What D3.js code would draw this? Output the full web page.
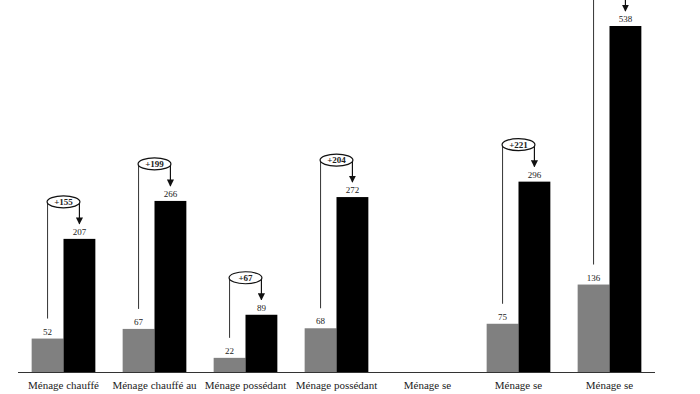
<!DOCTYPE html>
<html>
<head>
<meta charset="utf-8">
<script src="https://cdn.jsdelivr.net/npm/d3@7"></script>
<style>
  body { margin: 0; background: #fff; }
  text { font-family: "Liberation Serif", "DejaVu Serif", serif; fill: #222; }
</style>
</head>
<body>
<div id="chart"></div>
<script>
// categories (labels are cut off in the source picture)
var categories = ["Ménage chauffé", "Ménage chauffé au", "Ménage possédant", "Ménage possédant",
                  "Ménage se", "Ménage se", "Ménage se"];
// before (grey) / after (black); the fifth group has no bars
var before = [52, 67, 22, 68, null, 75, 136];
var after = [207, 266, 89, 272, null, 296, 538];
// last bubble sits above the top edge of the picture, so its label is not shown
var change = ["+155", "+199", "+67", "+204", null, "+221", null];

var width = 700, height = 394;
var margin = {left: 18, right: 45, bottom: 22};

var svg = d3.select("#chart").append("svg")
    .attr("width", width)
    .attr("height", height);

var defs = svg.append("defs");
defs.append("marker")
    .attr("id", "arrow")
    .attr("viewBox", "0 0 10 10")
    .attr("refX", 9).attr("refY", 5)
    .attr("markerWidth", 6).attr("markerHeight", 6)
    .attr("orient", "auto")
    .append("path")
    .attr("d", "M0,0 L10,5 L0,10 Z")
    .attr("fill", "#111");

var x = d3.scaleBand()
    .domain(d3.range(categories.length))
    .range([margin.left, width - margin.right])
    .paddingInner(0.3)
    .paddingOuter(0.15);

var baseY = height - margin.bottom;
var y = d3.scaleLinear()
    .domain([0, 538])
    .range([baseY, 26]);

var bw = x.bandwidth() / 2;

var groups = svg.selectAll(".grp")
    .data(categories.map(function(c, i){
        return {cat: c, i: i, b: before[i], a: after[i], d: change[i]};
    }))
    .enter()
    .append("g")
    .attr("class", "grp");

var withBars = groups.filter(function(d){ return d.b != null; });

// grey bars
withBars.append("rect")
    .attr("x", function(d){ return x(d.i); })
    .attr("y", function(d){ return y(d.b); })
    .attr("width", bw)
    .attr("height", function(d){ return baseY - y(d.b); })
    .attr("fill", "#808080");

// black bars
withBars.append("rect")
    .attr("x", function(d){ return x(d.i) + bw; })
    .attr("y", function(d){ return y(d.a); })
    .attr("width", bw)
    .attr("height", function(d){ return baseY - y(d.a); })
    .attr("fill", "#000");

// value labels
withBars.append("text")
    .attr("x", function(d){ return x(d.i) + bw / 2; })
    .attr("y", function(d){ return y(d.b) - 4; })
    .attr("text-anchor", "middle")
    .attr("font-size", 9)
    .text(function(d){ return d.b; });

withBars.append("text")
    .attr("x", function(d){ return x(d.i) + bw * 1.5; })
    .attr("y", function(d){ return y(d.a) - 4; })
    .attr("text-anchor", "middle")
    .attr("font-size", 9)
    .text(function(d){ return d.a; });

// change annotation: line up from grey, ellipse, arrow down to black
var ellY = function(d){ return y(d.a) - 37; };

withBars.append("line")
    .attr("x1", function(d){ return x(d.i) + bw / 2; })
    .attr("x2", function(d){ return x(d.i) + bw / 2; })
    .attr("y1", function(d){ return y(d.b) - 20; })
    .attr("y2", ellY)
    .attr("stroke", "#333")
    .attr("stroke-width", 1);

withBars.append("line")
    .attr("x1", function(d){ return x(d.i) + bw * 1.5; })
    .attr("x2", function(d){ return x(d.i) + bw * 1.5; })
    .attr("y1", ellY)
    .attr("y2", function(d){ return y(d.a) - 15; })
    .attr("stroke", "#111")
    .attr("stroke-width", 1.2)
    .attr("marker-end", "url(#arrow)");

var withNote = withBars.filter(function(d){ return d.d != null; });

withNote.append("ellipse")
    .attr("cx", function(d){ return x(d.i) + bw; })
    .attr("cy", ellY)
    .attr("rx", bw / 2 + 0.5)
    .attr("ry", 6)
    .attr("fill", "#fff")
    .attr("stroke", "#111")
    .attr("stroke-width", 1.2);

withNote.append("text")
    .attr("x", function(d){ return x(d.i) + bw; })
    .attr("y", function(d){ return ellY(d) + 3; })
    .attr("text-anchor", "middle")
    .attr("font-size", 9)
    .attr("font-weight", "bold")
    .text(function(d){ return d.d; });

// baseline
svg.append("line")
    .attr("x1", x.range()[0])
    .attr("x2", x.range()[1])
    .attr("y1", baseY + 0.5)
    .attr("y2", baseY + 0.5)
    .attr("stroke", "#333")
    .attr("stroke-width", 1);

// category labels
groups.append("text")
    .attr("x", function(d){ return x(d.i) + bw; })
    .attr("y", baseY + 17)
    .attr("text-anchor", "middle")
    .attr("font-size", 11)
    .text(function(d){ return d.cat; });
</script>
</body>
</html>
